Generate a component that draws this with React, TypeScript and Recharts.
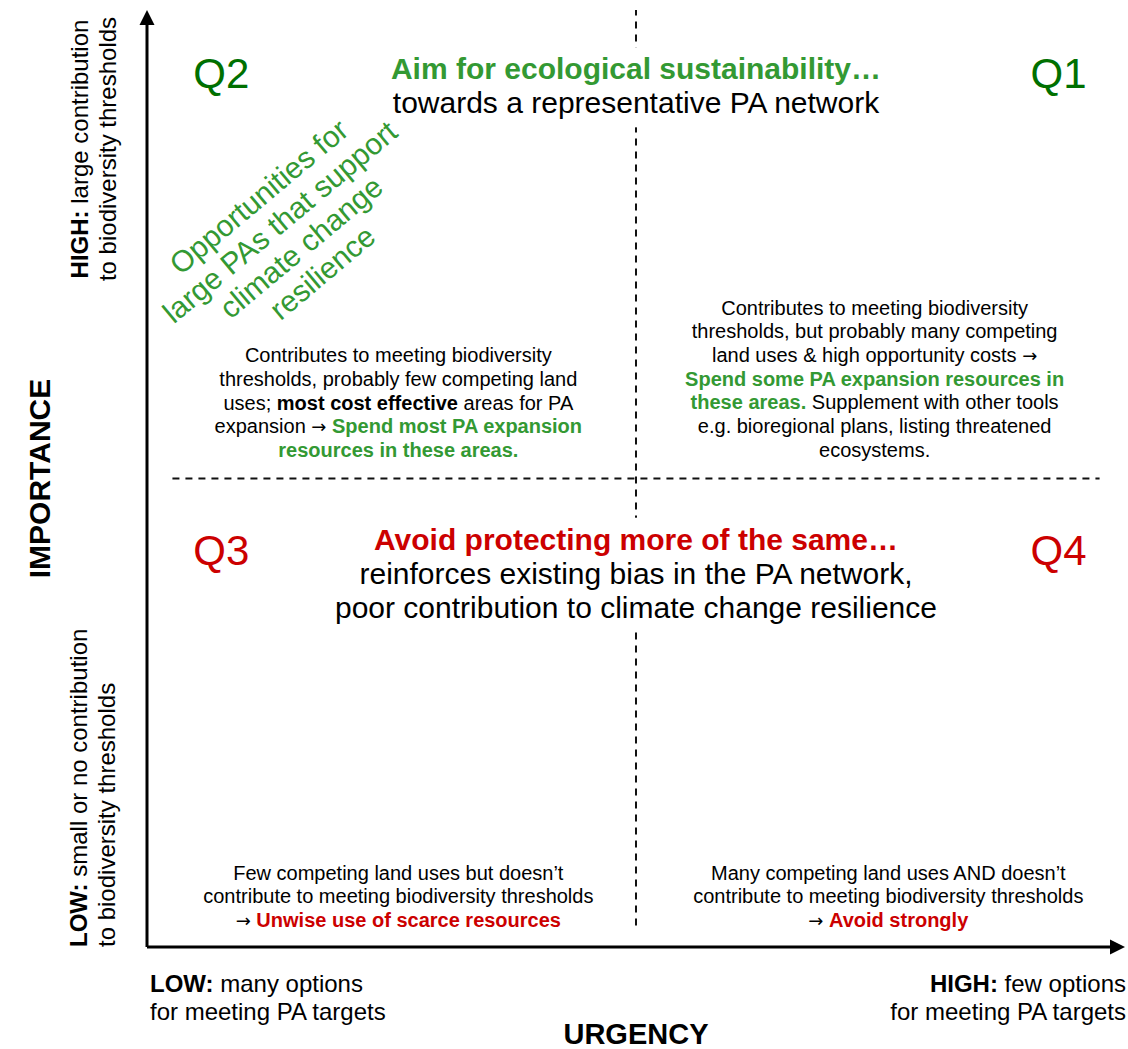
import React from 'react';
import { ScatterChart, Scatter, XAxis, YAxis, ReferenceLine, Label } from 'recharts';

const FONT = '"Liberation Sans", Arial, Helvetica, sans-serif';
const ARROW_FONT = '"DejaVu Sans", sans-serif';
const DARK_GREEN = '#007000';
const GREEN = '#339933';
const RED = '#cc0000';

// a piece of text and its emphasis: '' plain, 'b' bold, 'g' bold green, 'r' bold red, 'a' arrow symbol
type Seg = [string, '' | 'b' | 'g' | 'r' | 'a'];

// quadrant tags
const quadrantNames = ['Q1', 'Q2', 'Q3', 'Q4'];
const quadrantX = [9.32, 0.76, 0.76, 9.32];
const quadrantY = [9.17, 9.17, 4.08, 4.08];

// headlines of the upper and lower halves
const topHeadline = ['Aim for ecological sustainability…', 'towards a representative PA network'];
const bottomHeadline = [
  'Avoid protecting more of the same…',
  'reinforces existing bias in the PA network,',
  'poor contribution to climate change resilience',
];
const headlineX = [5, 5];
const headlineY = [9.26, 4.24];

// body text of each quadrant
const q1Text: Seg[][] = [
  [['Contributes to meeting biodiversity', '']],
  [['thresholds, but probably many competing', '']],
  [['land uses & high opportunity costs ', ''], ['→', 'a']],
  [['Spend some PA expansion resources in', 'g']],
  [['these areas.', 'g'], [' Supplement with other tools', '']],
  [['e.g. bioregional plans, listing threatened', '']],
  [['ecosystems.', '']],
];
const q2Text: Seg[][] = [
  [['Contributes to meeting biodiversity', '']],
  [['thresholds, probably few competing land', '']],
  [['uses; ', ''], ['most cost effective', 'b'], [' areas for PA', '']],
  [['expansion ', ''], ['→', 'a'], [' ', ''], ['Spend most PA expansion', 'g']],
  [['resources in these areas.', 'g']],
];
const q3Text: Seg[][] = [
  [['Few competing land uses but doesn’t', '']],
  [['contribute to meeting biodiversity thresholds', '']],
  [['→', 'a'], [' ', ''], ['Unwise use of scarce resources', 'r']],
];
const q4Text: Seg[][] = [
  [['Many competing land uses AND doesn’t', '']],
  [['contribute to meeting biodiversity thresholds', '']],
  [['→', 'a'], [' ', ''], ['Avoid strongly', 'r']],
];
const bodyTexts = [q1Text, q2Text, q3Text, q4Text];
const bodyX = [7.44, 2.57, 2.57, 7.58];
const bodyY = [6.75, 6.24, 0.72, 0.72];

// rotated note in Q2
const noteLines = ['Opportunities for', 'large PAs that support', 'climate change', 'resilience'];
const noteX = 1.47;
const noteY = 7.6;

// axis captions
const yHigh: Seg[][] = [[['HIGH:', 'b'], [' large contribution', '']], [['to biodiversity thresholds', '']]];
const yLow: Seg[][] = [[['LOW:', 'b'], [' small or no contribution', '']], [['to biodiversity thresholds', '']]];
const yTitle = 'IMPORTANCE';
const xLow: Seg[][] = [[['LOW:', 'b'], [' many options', '']], [['for meeting PA targets', '']]];
const xHigh: Seg[][] = [[['HIGH:', 'b'], [' few options', '']], [['for meeting PA targets', '']]];
const xTitle = 'URGENCY';

const annotations = [
  ...quadrantNames.map((q, i) => ({ x: quadrantX[i], y: quadrantY[i], kind: 'quad', idx: i })),
  ...headlineX.map((x, i) => ({ x, y: headlineY[i], kind: 'headline', idx: i })),
  ...bodyTexts.map((_, i) => ({ x: bodyX[i], y: bodyY[i], kind: 'body', idx: i })),
  { x: noteX, y: noteY, kind: 'note', idx: 0 },
];

const segs = (line: Seg[]) =>
  line.map(([t, e], i) => (
    <tspan
      key={i}
      fontFamily={e === 'a' ? ARROW_FONT : undefined}
      fontSize={e === 'a' ? '0.9em' : undefined}
      fontWeight={e && e !== 'a' ? 'bold' : 'normal'}
      fill={e === 'g' ? GREEN : e === 'r' ? RED : '#000'}
    >
      {t}
    </tspan>
  ));

const Annotation = (props: any) => {
  const { cx, cy, payload } = props;
  if (cx == null || cy == null) return null;
  const { kind, idx } = payload;

  if (kind === 'quad') {
    return (
      <text x={cx} y={cy} textAnchor="middle" fontFamily={FONT} fontSize={42} fill={idx < 2 ? DARK_GREEN : RED}>
        {quadrantNames[idx]}
      </text>
    );
  }

  if (kind === 'headline') {
    const lines = idx === 0 ? topHeadline : bottomHeadline;
    const step = 34;
    const w = idx === 0 ? 500 : 610;
    return (
      <g>
        <rect x={cx - w / 2} y={cy - 32} width={w} height={(lines.length - 1) * step + 46} fill="#fff" />
        {lines.map((l, i) => (
          <text
            key={i}
            x={cx}
            y={cy + i * step}
            textAnchor="middle"
            fontFamily={FONT}
            fontSize={30}
            fontWeight={i === 0 ? 'bold' : 'normal'}
            fill={i === 0 ? (idx === 0 ? GREEN : RED) : '#000'}
          >
            {l}
          </text>
        ))}
      </g>
    );
  }

  if (kind === 'body') {
    return (
      <g>
        {bodyTexts[idx].map((line, i) => (
          <text
            key={i}
            x={cx}
            y={cy + i * 23.7}
            textAnchor="middle"
            fontFamily={FONT}
            fontSize={20}
            style={{ whiteSpace: 'pre' }}
          >
            {segs(line)}
          </text>
        ))}
      </g>
    );
  }

  // rotated note
  return (
    <g transform={`translate(${cx},${cy}) rotate(-40)`}>
      {noteLines.map((l, i) => (
        <text key={i} x={0} y={(i - 1.5) * 33 + 10} textAnchor="middle" fontFamily={FONT} fontSize={30} fill={GREEN}>
          {l}
        </text>
      ))}
    </g>
  );
};

const Arrow = (props: any) => {
  const { x1, y1, x2, y2 } = props;
  const len = Math.hypot(x2 - x1, y2 - y1) || 1;
  const ux = (x2 - x1) / len;
  const uy = (y2 - y1) / len;
  const head = 15;
  const half = 7.5;
  const bx = x2 - ux * head;
  const by = y2 - uy * head;
  return (
    <g>
      <line x1={x1} y1={y1} x2={bx} y2={by} stroke="#000" strokeWidth={3} />
      <polygon
        points={`${x2},${y2} ${bx - uy * half},${by + ux * half} ${bx + uy * half},${by - ux * half}`}
        fill="#000"
      />
    </g>
  );
};

const YCaption = (props: any) => {
  const vb = props.viewBox || { x: 0, y: 10, width: 147, height: 937 };
  const top = vb.y;
  const bottom = vb.y + vb.height;
  const rot = (x: number, y: number) => `rotate(-90, ${x}, ${y})`;
  return (
    <g fontFamily={FONT} style={{ whiteSpace: 'pre' }}>
      <text x={50} y={top + vb.height / 2} transform={rot(50, top + vb.height / 2)} textAnchor="middle" fontSize={30} fontWeight="bold">
        {yTitle}
      </text>
      {yHigh.map((line, i) => (
        <text key={'h' + i} x={88 + i * 28} y={top + 139} transform={rot(88 + i * 28, top + 139)} textAnchor="middle" fontSize={24}>
          {segs(line)}
        </text>
      ))}
      {yLow.map((line, i) => (
        <text key={'l' + i} x={87 + i * 28} y={bottom} transform={rot(87 + i * 28, bottom)} textAnchor="start" fontSize={24}>
          {segs(line)}
        </text>
      ))}
    </g>
  );
};

const XCaption = (props: any) => {
  const vb = props.viewBox || { x: 147, y: 947, width: 978, height: 102 };
  return (
    <g fontFamily={FONT} fontSize={24} style={{ whiteSpace: 'pre' }}>
      {xLow.map((line, i) => (
        <text key={'l' + i} x={vb.x + 3} y={vb.y + 45 + i * 28} textAnchor="start">
          {segs(line)}
        </text>
      ))}
      {xHigh.map((line, i) => (
        <text key={'h' + i} x={vb.x + vb.width + 1} y={vb.y + 45 + i * 28} textAnchor="end">
          {segs(line)}
        </text>
      ))}
      <text x={vb.x + vb.width / 2} y={vb.y + 97} textAnchor="middle" fontSize={29} fontWeight="bold">
        {xTitle}
      </text>
    </g>
  );
};

export default function App() {
  return (
    <div style={{ position: 'absolute', left: 0, top: 0, background: '#fff' }}>
      <ScatterChart width={1128} height={1049} margin={{ top: 10, right: 3, bottom: 0, left: 0 }}>
        <XAxis type="number" dataKey="x" domain={[0, 10]} height={102} axisLine={false} tickLine={false} tick={false}>
          <Label content={XCaption} />
        </XAxis>
        <YAxis type="number" dataKey="y" domain={[0, 10]} width={147} axisLine={false} tickLine={false} tick={false}>
          <Label content={YCaption} />
        </YAxis>
        <ReferenceLine
          segment={[{ x: 5, y: 0.23 }, { x: 5, y: 10 }]}
          stroke="#111"
          strokeWidth={2}
          strokeDasharray="7 6"
        />
        <ReferenceLine
          segment={[{ x: 0.26, y: 5 }, { x: 9.74, y: 5 }]}
          stroke="#111"
          strokeWidth={2}
          strokeDasharray="7 6"
        />
        <ReferenceLine segment={[{ x: 0, y: 0 }, { x: 0, y: 10 }]} shape={Arrow} />
        <ReferenceLine segment={[{ x: 0, y: 0 }, { x: 10, y: 0 }]} shape={Arrow} />
        <Scatter data={annotations} shape={Annotation} isAnimationActive={false} />
      </ScatterChart>
    </div>
  );
}
